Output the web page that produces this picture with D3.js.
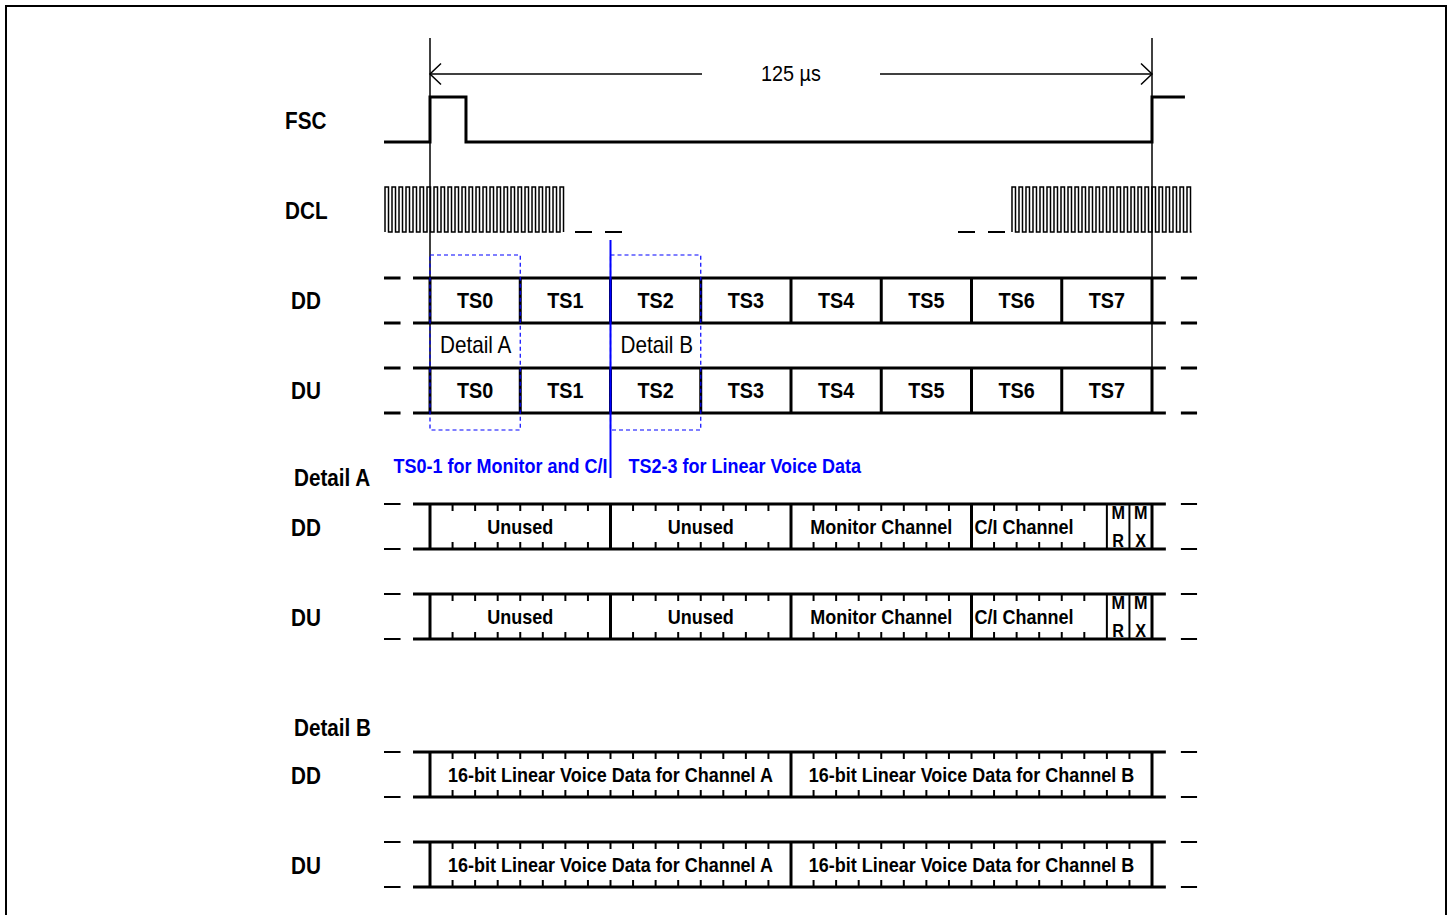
<!DOCTYPE html>
<html><head><meta charset="utf-8">
<script src="https://cdn.jsdelivr.net/npm/d3@7/dist/d3.min.js"></script>
<style>
body{margin:0;background:#fff}
svg{display:block}
text{font-family:"Liberation Sans",Arial,Helvetica,sans-serif;fill:#000}
</style>
</head><body>
<svg id="c" width="1452" height="915"></svg>
<script>
// ---------- data ----------
const framePeriod = 125;                 // µs, one FSC frame
const periodLabel = "125 µs";
const timeSlots = ["TS0","TS1","TS2","TS3","TS4","TS5","TS6","TS7"];
const fscTimes  = [-7.96, 0, 0, 6.23, 6.23, 125, 125, 130.7];
const fscLevels = [0, 0, 1, 1, 0, 0, 1, 1];
const dclFirstRise = [-7.79, 100.76];     // µs
const dclPulses    = [26, 26];
const dclPeriod    = 1.212;               // µs (drawn, not to scale)
const dclGapStart  = [25.10, 30.30, 91.41, 96.61];
const dclGapEnd    = [28.05, 33.24, 94.36, 99.55];
const busLeftDash  = [-7.96, -5.10];
const busLead      = -2.94;
const busTail      = 127.4;
const busRightDash = [130.0, 132.8];
const signalRows   = ["FSC","DCL"];
const busRows      = ["DD","DU"];
const detailNames  = ["Detail A","Detail B"];
const detailSlot   = [0, 2];              // slot shown by each detail view
const notes        = ["TS0-1 for Monitor and C/I","TS2-3 for Linear Voice Data"];
const bitsPerDetail = 32;
const detailAFields = ["Unused","Unused","Monitor Channel","C/I Channel","MR","MX"];
const detailABits   = [8, 8, 8, 6, 1, 1];
const detailBFields = ["16-bit Linear Voice Data for Channel A","16-bit Linear Voice Data for Channel B"];
const detailBBits   = [16, 16];

// ---------- layout ----------
const svg = d3.select("#c");
const W = 1452, H = 915;
const x = d3.scaleLinear().domain([0, framePeriod]).range([430, 1152]);
const xs = d3.scaleLinear().domain([0, timeSlots.length]).range([430, 1152]);
const xb = d3.scaleLinear().domain([0, bitsPerDetail]).range([430, 1152]);
const SX = 0.9;
const BLUE = "#0000ff";

function label(g, txt, px, py, opt) {
  opt = opt || {};
  return g.append("text")
    .attr("transform", `translate(${px},${py}) scale(${SX},1)`)
    .attr("text-anchor", opt.anchor || "start")
    .attr("font-size", opt.size || 23)
    .attr("font-weight", opt.weight || "bold")
    .style("fill", opt.color || "#000")
    .text(txt);
}

// frame
svg.append("rect").attr("x",6).attr("y",6).attr("width",W-12).attr("height",H+20)
  .attr("fill","none").attr("stroke","#000").attr("stroke-width",2);

// period arrow
const arrY = 74;
const g0 = svg.append("g");
g0.append("line").attr("x1",x(0)).attr("x2",702).attr("y1",arrY).attr("y2",arrY).attr("stroke","#000").attr("stroke-width",1.5);
g0.append("line").attr("x1",880).attr("x2",x(framePeriod)).attr("y1",arrY).attr("y2",arrY).attr("stroke","#000").attr("stroke-width",1.5);
g0.append("path").attr("d",`M${x(0)+11},${arrY-10.5}L${x(0)},${arrY}L${x(0)+11},${arrY+10.5}`).attr("fill","none").attr("stroke","#000").attr("stroke-width",1.5);
g0.append("path").attr("d",`M${x(framePeriod)-11},${arrY-10.5}L${x(framePeriod)},${arrY}L${x(framePeriod)-11},${arrY+10.5}`).attr("fill","none").attr("stroke","#000").attr("stroke-width",1.5);
label(g0, periodLabel, (x(0)+x(framePeriod))/2, 81, {anchor:"middle", weight:"normal", size:22});

// frame boundary verticals
[0, framePeriod].forEach(t => {
  svg.append("line").attr("x1",x(t)).attr("x2",x(t)).attr("y1",38).attr("y2",413)
    .attr("stroke","#000").attr("stroke-width",1.5);
});

// FSC
const yF = d3.scaleLinear().domain([0,1]).range([142,97]);
svg.append("path")
  .attr("d", d3.line().x(d=>x(d[0])).y(d=>yF(d[1]))(fscTimes.map((t,i)=>[t,fscLevels[i]])))
  .attr("fill","none").attr("stroke","#000").attr("stroke-width",3).attr("stroke-linejoin","miter");
label(svg, signalRows[0], 285, 129);

// DCL
const yD = d3.scaleLinear().domain([0,1]).range([232,187]);
dclFirstRise.forEach((t0, b) => {
  const pts = [];
  for (let i = 0; i < dclPulses[b]; i++) {
    const r = t0 + i*dclPeriod, f = r + dclPeriod/2;
    pts.push([r,0],[r,1],[f,1],[f,0]);
  }
  const last = pts[pts.length-1][0];
  if (b === 1) pts.push([last + 0.2, 0]);
  svg.append("path").attr("d", d3.line().x(d=>x(d[0])).y(d=>yD(d[1]))(pts))
    .attr("fill","none").attr("stroke","#000").attr("stroke-width",1.5);
});
dclGapStart.forEach((s,i) => {
  svg.append("line").attr("x1",x(s)).attr("x2",x(dclGapEnd[i])).attr("y1",yD(0)).attr("y2",yD(0))
    .attr("stroke","#000").attr("stroke-width",2);
});
label(svg, signalRows[1], 285, 219);

// generic bus edges (dashes + lines)
function busEdges(g, yTop, yBot, sw, dsw) {
  [yTop, yBot].forEach(yy => {
    g.append("line").attr("x1",x(busLeftDash[0])).attr("x2",x(busLeftDash[1])).attr("y1",yy).attr("y2",yy)
      .attr("stroke","#000").attr("stroke-width",dsw);
    g.append("line").attr("x1",x(busLead)).attr("x2",x(busTail)).attr("y1",yy).attr("y2",yy)
      .attr("stroke","#000").attr("stroke-width",sw);
    g.append("line").attr("x1",x(busRightDash[0])).attr("x2",x(busRightDash[1])).attr("y1",yy).attr("y2",yy)
      .attr("stroke","#000").attr("stroke-width",dsw);
  });
}

// DD / DU time slot rows
const slotRowTop = [278, 368];
busRows.forEach((name, r) => {
  const yT = slotRowTop[r], yB = yT + 45;
  const g = svg.append("g");
  busEdges(g, yT, yB, 3, 3);
  g.selectAll("line.v").data(d3.range(timeSlots.length+1)).join("line")
    .attr("x1",d=>xs(d)).attr("x2",d=>xs(d)).attr("y1",yT).attr("y2",yB)
    .attr("stroke","#000").attr("stroke-width",3);
  timeSlots.forEach((s,i) => label(g, s, xs(i+0.5), yT+30, {anchor:"middle", size:22}));
  label(svg, name, 291, yT + 31);
});

// detail boxes (blue dashed) and labels
detailSlot.forEach((sl, i) => {
  svg.append("rect").attr("x", xs(sl)).attr("y",255).attr("width", xs(sl+1)-xs(sl)).attr("height",175)
    .attr("fill","none").attr("stroke",BLUE).attr("stroke-width",1.2).attr("stroke-dasharray","4,3");
  label(svg, detailNames[i], xs(sl) + 10, 353, {weight:"normal", size:23});
});
// blue separator and notes
svg.append("line").attr("x1",xs(2)).attr("x2",xs(2)).attr("y1",240).attr("y2",478)
  .attr("stroke",BLUE).attr("stroke-width",2);
label(svg, notes[0], xs(2)-3, 473, {anchor:"end", size:20, color:BLUE});
label(svg, notes[1], xs(2)+18, 473, {anchor:"start", size:20, color:BLUE});

// detail rows
function detailRow(yT, fields, bits) {
  const yB = yT + 45;
  const g = svg.append("g");
  busEdges(g, yT, yB, 3, 2);
  let start = 0;
  const starts = bits.map(b => { const s = start; start += b; return s; });
  g.selectAll("line.sep").data(starts.concat([bitsPerDetail])).join("line")
    .attr("x1",d=>xb(d)).attr("x2",d=>xb(d)).attr("y1",yT).attr("y2",yB)
    .attr("stroke","#000").attr("stroke-width",(d,i)=> (bits[i]===1 || bits[i-1]===1) && d!==bitsPerDetail ? 2 : 3);
  fields.forEach((f, i) => {
    const s = starts[i], b = bits[i];
    if (b > 1) {
      d3.range(s+1, s+b).forEach(t => {
        g.append("line").attr("x1",xb(t)).attr("x2",xb(t)).attr("y1",yT).attr("y2",yT+7).attr("stroke","#000").attr("stroke-width",2);
        g.append("line").attr("x1",xb(t)).attr("x2",xb(t)).attr("y1",yB-7).attr("y2",yB).attr("stroke","#000").attr("stroke-width",2);
      });
      if (f.startsWith("C/I")) label(g, f, xb(s)+3, yT+30, {size:20});
      else label(g, f, xb(s+b/2), yT+30, {anchor:"middle", size:20});
    } else {
      const cx = xb(s+0.5);
      label(g, f[0], cx, yT+15, {anchor:"middle", size:18});
      label(g, f[1], cx, yT+43, {anchor:"middle", size:18});
    }
  });
}

label(svg, detailNames[0], 294, 486);
[504, 594].forEach((yT, r) => {
  detailRow(yT, detailAFields, detailABits);
  label(svg, busRows[r], 291, yT + 32);
});
label(svg, detailNames[1], 294, 736);
[752, 842].forEach((yT, r) => {
  detailRow(yT, detailBFields, detailBBits);
  label(svg, busRows[r], 291, yT + 32);
});
</script>
</body></html>
